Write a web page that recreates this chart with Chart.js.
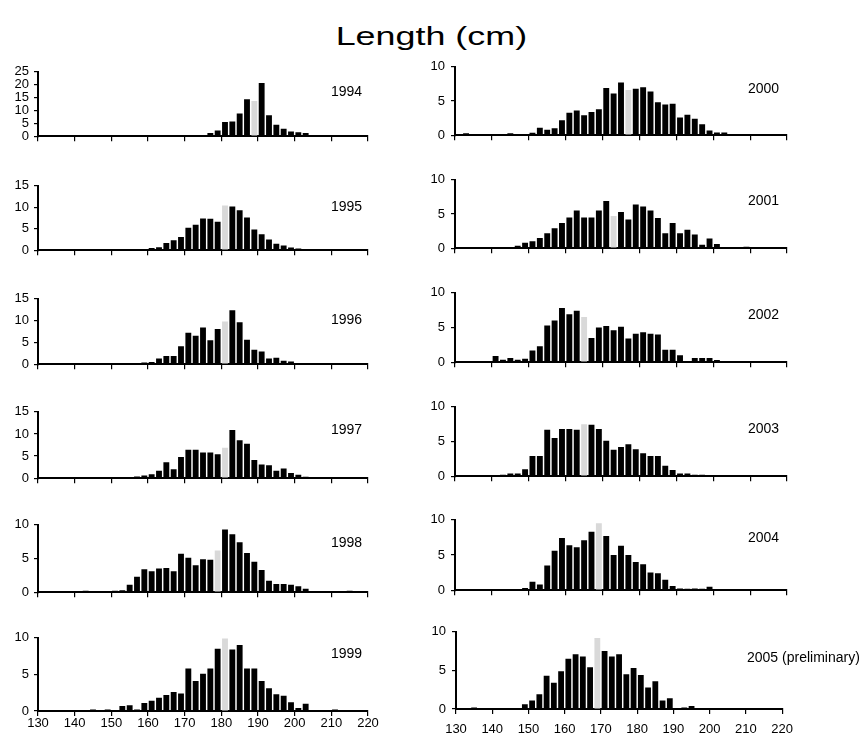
<!DOCTYPE html>
<html>
<head>
<meta charset="utf-8">
<script src="https://cdn.jsdelivr.net/npm/chart.js@4"></script>
<style>
    body { margin: 0; background: #fff; }
    #page { position: relative; width: 863px; height: 738px; font-family: 'Liberation Sans', Arial, sans-serif; color: #000; }
    #title { position: absolute; left: 0; width: 863px; top: 21px; text-align: center; font-size: 26px; line-height: 30px; }
    #title span { display: inline-block; transform: scaleX(1.38); }
    .year { position: absolute; font-size: 14px; line-height: 16px; white-space: nowrap; }
    canvas { position: absolute; }
</style>
</head>
<body>
<div id="page">
    <div id="title"><span>Length (cm)</span></div>
</div>
<script>
// length classes (2 cm bins, bin centres)
let lengths = [131, 133, 135, 137, 139, 141, 143, 145, 147, 149, 151, 153, 155, 157, 159,
               161, 163, 165, 167, 169, 171, 173, 175, 177, 179, 181, 183, 185, 187, 189,
               191, 193, 195, 197, 199, 201, 203, 205, 207, 209, 211, 213, 215, 217, 219]

let years = ['1994', '1995', '1996', '1997', '1998', '1999',
             '2000', '2001', '2002', '2003', '2004', '2005 (preliminary)']

// percentage by length class
let pct1994 = [0, 0, 0, 0, 0, 0, 0, 0, 0, 0, 0, 0, 0, 0, 0,
               0, 0, 0, 0, 0, 0.3, 0.3, 0.4, 1.2, 2.2, 5.5, 5.7, 8.8, 14.3, 13.7,
               20.7, 8.1, 4.4, 2.9, 1.8, 1.5, 1.2, 0.3, 0.3, 0, 0, 0, 0, 0, 0]
let pct1995 = [0, 0, 0, 0, 0, 0, 0, 0, 0.2, 0, 0.2, 0, 0.2, 0, 0,
               0.5, 0.7, 1.7, 2.3, 3.1, 5.2, 5.9, 7.4, 7.3, 6.6, 10.4, 10.2, 9.3, 7.6, 4.8,
               3.7, 2.5, 1.5, 1.1, 0.6, 0.4, 0, 0.3, 0, 0.2, 0.2, 0, 0.2, 0, 0]
let pct1996 = [0, 0, 0, 0, 0, 0, 0, 0, 0, 0, 0.3, 0, 0, 0.1, 0.4,
               0.5, 1.3, 1.9, 1.9, 4.1, 7.2, 6.5, 8.4, 5.5, 8.1, 9.8, 12.4, 9.6, 5.6, 3.3,
               2.9, 1.3, 1.5, 0.8, 0.6, 0.3, 0.2, 0.2, 0, 0, 0, 0, 0, 0.3, 0]
let pct1997 = [0, 0, 0, 0, 0, 0, 0, 0, 0, 0, 0, 0, 0, 0.4, 0.6,
               0.9, 1.7, 3.6, 2.0, 4.8, 6.4, 6.4, 5.8, 5.8, 5.4, 6.9, 10.9, 8.6, 7.8, 4.1,
               3.1, 2.9, 1.7, 2.2, 1.2, 0.8, 0.3, 0.1, 0, 0, 0.2, 0, 0, 0, 0]
let pct1998 = [0, 0, 0, 0, 0, 0, 0.2, 0, 0, 0, 0.2, 0.3, 1.1, 2.3, 3.4,
               3.1, 3.5, 3.6, 3.1, 5.7, 5.1, 4.0, 4.9, 4.8, 6.2, 9.3, 8.6, 7.4, 5.8, 4.5,
               3.3, 1.7, 1.2, 1.2, 1.1, 0.9, 0.5, 0, 0, 0, 0, 0, 0.2, 0, 0]
let pct1999 = [0, 0, 0, 0, 0, 0, 0, 0.2, 0.1, 0.2, 0, 0.7, 0.8, 0.2, 1.1,
               1.4, 1.8, 2.2, 2.6, 2.4, 5.8, 4.1, 5.1, 5.8, 8.5, 9.9, 8.4, 9.0, 5.8, 5.8,
               4.1, 3.1, 2.3, 2.1, 1.2, 0.4, 1.0, 0.1, 0, 0, 0.2, 0, 0, 0, 0]
let pct2000 = [0, 0.3, 0.15, 0, 0, 0, 0, 0.3, 0, 0.1, 0.35, 1.1, 0.8, 1.0, 2.2,
               3.3, 3.6, 2.9, 3.4, 3.8, 6.9, 6.1, 7.7, 6.6, 6.8, 7.0, 6.4, 4.8, 4.5, 4.6,
               2.6, 3.0, 2.4, 1.6, 0.7, 0.4, 0.4, 0.1, 0, 0.15, 0, 0, 0, 0.15, 0]
let pct2001 = [0, 0, 0, 0, 0, 0.15, 0, 0, 0.35, 0.8, 1.0, 1.5, 2.2, 2.9, 3.7,
               4.5, 5.5, 4.5, 4.5, 5.5, 6.9, 4.7, 5.3, 4.2, 6.4, 6.1, 5.5, 4.4, 2.2, 3.7,
               2.2, 2.7, 2.0, 0.5, 1.4, 0.6, 0.1, 0.1, 0, 0.2, 0, 0, 0, 0, 0]
let pct2002 = [0, 0, 0, 0, 0.15, 0.9, 0.35, 0.6, 0.35, 0.5, 1.7, 2.3, 5.3, 6.0, 7.8,
               6.9, 7.4, 6.5, 3.5, 5.0, 5.2, 4.6, 5.1, 3.4, 4.1, 4.3, 4.1, 4.0, 1.8, 1.8,
               1.0, 0.1, 0.6, 0.6, 0.6, 0.3, 0.1, 0, 0, 0, 0.15, 0, 0, 0, 0]
let pct2003 = [0, 0, 0, 0, 0, 0, 0.2, 0.4, 0.4, 1.0, 2.9, 2.9, 6.7, 5.5, 6.8,
               6.8, 6.7, 7.5, 7.4, 6.8, 5.1, 3.8, 4.2, 4.6, 3.9, 3.3, 2.9, 2.9, 1.5, 0.9,
               0.4, 0.4, 0.2, 0.2, 0, 0.15, 0, 0.05, 0, 0, 0, 0, 0, 0, 0]
let pct2004 = [0, 0, 0, 0, 0, 0, 0, 0, 0, 0.3, 1.2, 0.8, 3.5, 5.6, 7.4,
               6.4, 6.1, 7.1, 8.3, 9.5, 7.7, 5.0, 6.3, 5.0, 4.0, 3.7, 2.5, 2.4, 1.5, 0.6,
               0.25, 0.2, 0.25, 0.2, 0.5, 0, 0, 0.15, 0.15, 0, 0.15, 0, 0.15, 0, 0]
let pct2005 = [0, 0, 0.2, 0, 0, 0, 0, 0, 0, 0.6, 1.1, 1.9, 4.3, 3.4, 4.9,
               6.5, 7.1, 6.8, 5.4, 9.2, 7.5, 6.8, 7.1, 4.5, 5.3, 4.4, 2.8, 3.6, 1.1, 1.4,
               0, 0.2, 0.4, 0, 0.1, 0, 0, 0, 0, 0, 0, 0, 0, 0, 0]

// the length class shown in grey in each year
let greyClass = [189, 181, 181, 181, 179, 181, 177, 173, 165, 165, 169, 169]

// y axis maximum for each year
let yMax = [25, 15, 15, 15, 10, 10, 10, 10, 10, 10, 10, 10]

let allPct = [pct1994, pct1995, pct1996, pct1997, pct1998, pct1999,
              pct2000, pct2001, pct2002, pct2003, pct2004, pct2005]

// panel plot areas: left, right, top, bottom (pixels on the page), year label spot, tick label gaps
let panels = [
    { l: 38, r: 368, t: 67, b: 141, yl: 331, yt: 83, yPad: 5 },
    { l: 38, r: 368, t: 181, b: 255, yl: 331, yt: 198, yPad: 5 },
    { l: 38, r: 368, t: 294, b: 369, yl: 331, yt: 311, yPad: 5 },
    { l: 38, r: 368, t: 407, b: 483, yl: 331, yt: 421, yPad: 5 },
    { l: 38, r: 368, t: 520, b: 597, yl: 331, yt: 534, yPad: 5 },
    { l: 38, r: 368, t: 633, b: 711, yl: 331, yt: 645, yPad: 5, labels: true, xPad: 0 },
    { l: 455, r: 787, t: 61, b: 141, yl: 748, yt: 80, yPad: 6 },
    { l: 455, r: 787, t: 174, b: 254, yl: 748, yt: 192, yPad: 6 },
    { l: 455, r: 787, t: 287, b: 368, yl: 748, yt: 306, yPad: 6 },
    { l: 455, r: 787, t: 401, b: 482, yl: 748, yt: 420, yPad: 6 },
    { l: 455, r: 787, t: 514, b: 596, yl: 748, yt: 529, yPad: 6 },
    { l: 456, r: 789, t: 626, b: 709, yl: 747, yt: 649, yPad: 6, labels: true, xPad: 8 }
]

Chart.defaults.font.family = "'Liberation Sans', Arial, sans-serif"
Chart.defaults.color = '#000'

const page = document.getElementById('page')
const yW = 40
const padT = 8
const padR = 12

panels.forEach((p, i) => {
    let xH = p.labels ? 29 : 8
    let canvas = document.createElement('canvas')
    canvas.width = yW + (p.r - p.l) + padR
    canvas.height = padT + (p.b - p.t) + xH
    canvas.style.left = (p.l - yW) + 'px'
    canvas.style.top = (p.t - padT) + 'px'
    page.appendChild(canvas)

    let label = document.createElement('div')
    label.className = 'year'
    label.style.left = p.yl + 'px'
    label.style.top = p.yt + 'px'
    label.textContent = years[i]
    page.appendChild(label)

    let values = allPct[i]
    new Chart(canvas.getContext('2d'), {
        type: 'bar',
        data: {
            datasets: [{
                data: lengths.map((len, k) => ({ x: len, y: values[k] })),
                backgroundColor: lengths.map(len => len === greyClass[i] ? '#d9d9d9' : '#000000'),
                borderWidth: 0,
                barPercentage: 0.8,
                categoryPercentage: 1
            }]
        },
        options: {
            responsive: false,
            animation: false,
            events: [],
            layout: { padding: { left: 0, right: padR, top: padT, bottom: 0 } },
            plugins: { legend: { display: false }, tooltip: { enabled: false } },
            scales: {
                x: {
                    type: 'linear',
                    min: 130,
                    max: 220,
                    offset: false,
                    afterFit: s => { s.height = xH },
                    grid: { drawOnChartArea: false, offset: false, tickLength: 5, color: '#000', lineWidth: 1.2 },
                    border: { color: '#000', width: 2 },
                    ticks: { display: !!p.labels, stepSize: 10, autoSkip: false, maxRotation: 0, padding: p.xPad || 0, font: { size: 13 } }
                },
                y: {
                    min: 0,
                    max: yMax[i],
                    afterFit: s => { s.width = yW },
                    grid: { drawOnChartArea: false, tickLength: 4, color: '#000', lineWidth: 1.2 },
                    border: { color: '#000', width: 2 },
                    ticks: { stepSize: 5, autoSkip: false, padding: p.yPad, font: { size: 13 } }
                }
            }
        }
    })
})
</script>
</body>
</html>
